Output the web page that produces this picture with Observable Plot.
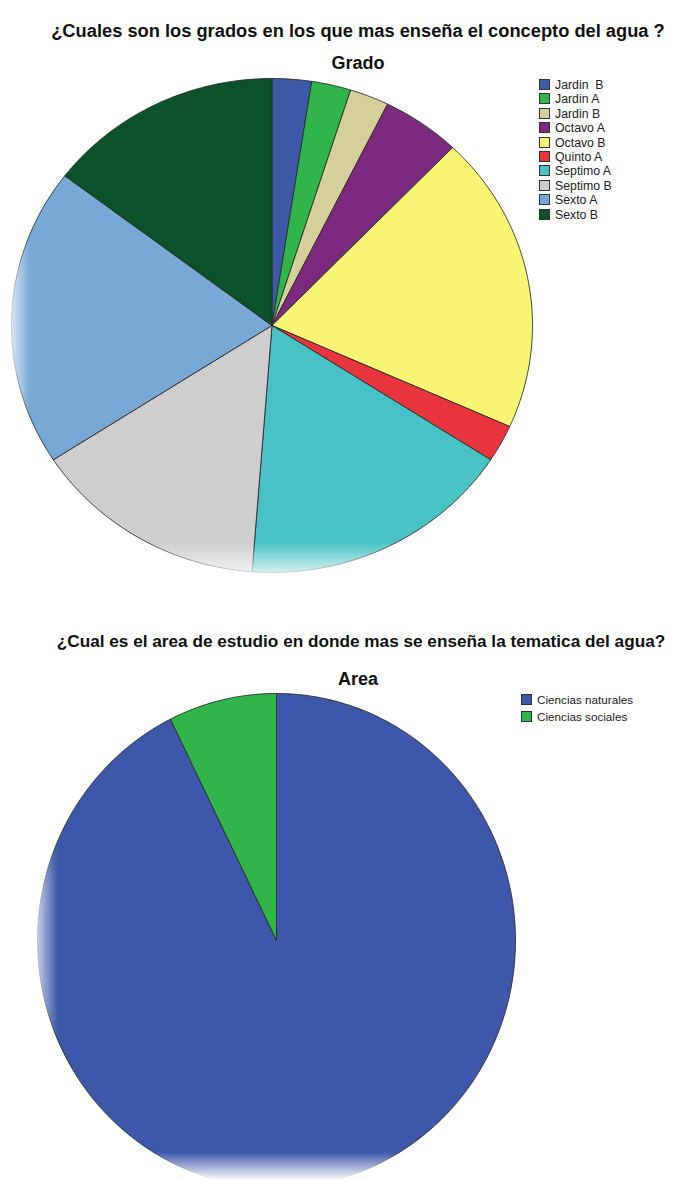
<!DOCTYPE html>
<html><head><meta charset="utf-8">
<script src="https://cdn.jsdelivr.net/npm/d3@7"></script>
<script src="https://cdn.jsdelivr.net/npm/@observablehq/plot@0.6"></script>
<style>
html,body{margin:0;padding:0;background:#fff;overflow:hidden;}
body{width:691px;height:1179px;position:relative;font-family:"Liberation Sans",Arial,sans-serif;}
.abs{position:absolute;}
.title{font-weight:bold;line-height:21px;color:#111;white-space:nowrap;text-align:center;}
.legend{color:#222;white-space:pre;}
.sw{display:inline-block;width:9px;height:9px;border:1px solid #333;vertical-align:-1px;margin-right:5px;}
.fade{pointer-events:none;}
.soft{-webkit-mask-image:linear-gradient(to bottom, transparent, #000 30%, #000 70%, transparent);mask-image:linear-gradient(to bottom, transparent, #000 30%, #000 70%, transparent);}
</style></head><body>
<script>
// ---- data ----
const gradoLabels = ["Jardin  B", "Jardin A", "Jardin B", "Octavo A", "Octavo B", "Quinto A", "Septimo A", "Septimo B", "Sexto A", "Sexto B"];
const gradoCounts = [1, 1, 1, 2, 8, 1, 7, 6, 8, 6];
const gradoColors = ["#3d5aa9", "#30b54a", "#d4cf9b", "#7b2a80", "#f8f575", "#e8343c", "#48c2c5", "#cecece", "#78a8d6", "#0b5129"];
const areaLabels = ["Ciencias naturales", "Ciencias sociales"];
const areaCounts = [38, 3];
const areaColors = ["#3d58aa", "#30b54a"];

const title1 = "¿Cuales son los grados en los que mas enseña el concepto del agua ?";
const sub1 = "Grado";
const title2 = "¿Cual es el area de estudio en donde mas se enseña la tematica del agua?";
const sub2 = "Area";

// ---- helpers ----
function slicePoints(counts) {
  const arcs = d3.pie().sort(null).startAngle(0).endAngle(2 * Math.PI)(counts);
  const pts = [];
  arcs.forEach((a, i) => {
    pts.push({k: String(i), x: 0, y: 0});
    const n = Math.max(2, Math.ceil((a.endAngle - a.startAngle) / (Math.PI / 360)));
    for (let j = 0; j <= n; j++) {
      const t = a.startAngle + (a.endAngle - a.startAngle) * j / n;
      pts.push({k: String(i), x: Math.sin(t), y: Math.cos(t)});
    }
    pts.push({k: String(i), x: 0, y: 0});
  });
  return pts;
}

function pie(counts, colors, w, h) {
  return Plot.plot({
    width: w, height: h,
    marginTop: 3, marginBottom: 3, marginLeft: 3, marginRight: 3,
    x: {domain: [-1, 1], axis: null},
    y: {domain: [-1, 1], axis: null},
    color: {type: "ordinal", domain: counts.map((_, i) => String(i)), range: colors},
    style: {background: "transparent", overflow: "visible"},
    marks: [
      Plot.line(slicePoints(counts), {x: "x", y: "y", z: "k", fill: "k", stroke: "#2b2b2b", strokeWidth: 0.9, strokeLinejoin: "round"})
    ]
  });
}

function place(el, left, top) {
  el.classList.add("abs");
  el.style.left = left + "px";
  el.style.top = top + "px";
  document.body.appendChild(el);
  return el;
}

function textDiv(txt, cls, left, top, width, size) {
  const d = document.createElement("div");
  d.className = cls;
  d.textContent = txt;
  d.style.width = width + "px";
  d.style.fontSize = size + "px";
  return place(d, left, top);
}

function legend(labels, colors, left, top, rowH, size) {
  const d = document.createElement("div");
  d.className = "legend";
  d.style.fontSize = size + "px";
  labels.forEach((l, i) => {
    const r = document.createElement("div");
    r.style.height = rowH + "px";
    r.style.lineHeight = rowH + "px";
    const s = document.createElement("span");
    s.className = "sw";
    s.style.background = colors[i];
    r.appendChild(s);
    r.appendChild(document.createTextNode(l));
    d.appendChild(r);
  });
  return place(d, left, top);
}

function fade(left, top, w, h, dir, soft) {
  const d = document.createElement("div");
  d.className = "fade" + (soft ? " soft" : "");
  d.style.width = w + "px";
  d.style.height = h + "px";
  d.style.background = `linear-gradient(${dir}, rgba(255,255,255,0), rgba(255,255,255,0.95))`;
  return place(d, left, top);
}

// ---- chart 1 ----
textDiv(title1, "title", 0, 20, 716, 18.3);
textDiv(sub1, "title", 0, 53, 716, 18);
place(pie(gradoCounts, gradoColors, 527, 500), 8, 75);
legend(gradoLabels, gradoColors, 539, 78, 14.4, 12.3);
fade(0, 542, 560, 38, "to bottom", false);
fade(6, 170, 24, 320, "to left", true);

// ---- chart 2 ----
textDiv(title2, "title", 0, 631, 722, 17.2);
textDiv(sub2, "title", 0, 669, 716, 18);
place(pie(areaCounts, areaColors, 484, 500), 34, 690);
legend(areaLabels, areaColors, 521, 692, 16.5, 11.7);
fade(0, 1152, 560, 27, "to bottom", false);
fade(30, 800, 28, 290, "to left", true);
</script>
</body></html>
